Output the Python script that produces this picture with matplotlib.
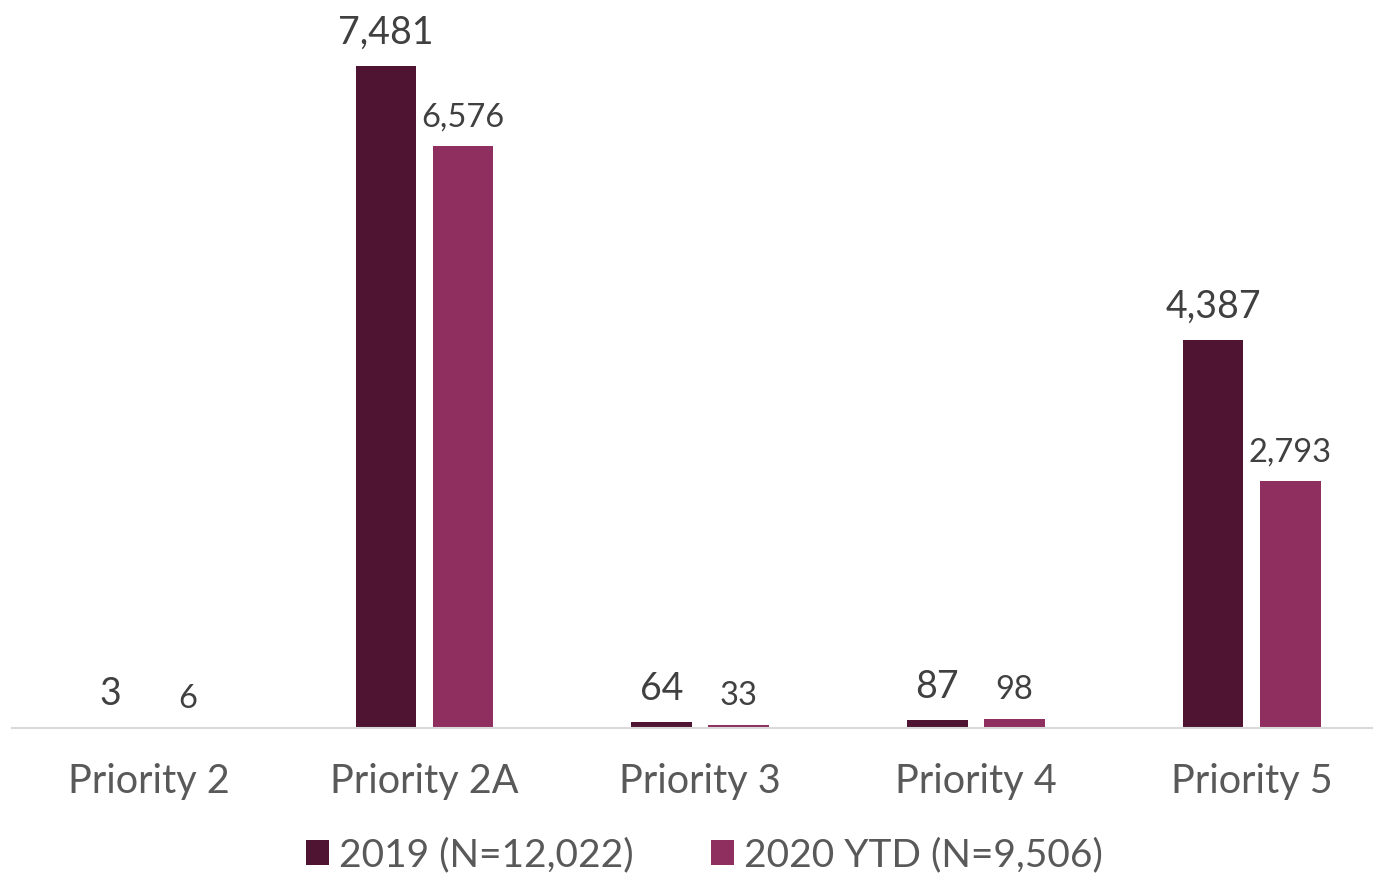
import matplotlib.pyplot as plt
import numpy as np

plt.rcParams['font.family'] = ['Lato', 'DejaVu Sans']

categories = ['Priority 2', 'Priority 2A', 'Priority 3', 'Priority 4', 'Priority 5']
vals_2019 = [3, 7481, 64, 87, 4387]
vals_2020 = [6, 6576, 33, 98, 2793]
series_names = ['2019 (N=12,022)', '2020 YTD (N=9,506)']

c_2019 = '#4E1431'
c_2020 = '#8E2F5F'

fig = plt.figure(figsize=(13.73, 8.77), dpi=100)
ax = fig.add_axes([12 / 1373, 149 / 877, 1361 / 1373, 728 / 877])

x = np.arange(len(categories))
w = 0.22
off = 0.14
b1 = ax.bar(x - off, vals_2019, w, color=c_2019, label=series_names[0])
b2 = ax.bar(x + off, vals_2020, w, color=c_2020, label=series_names[1])

for rect, v in zip(b1, vals_2019):
    ax.annotate(f'{v:,}', (rect.get_x() + rect.get_width() / 2, v),
                xytext=(0, 11), textcoords='offset points',
                ha='center', va='bottom', fontsize=27, color='#404040')
for rect, v in zip(b2, vals_2020):
    ax.annotate(f'{v:,}', (rect.get_x() + rect.get_width() / 2, v),
                xytext=(0, 10), textcoords='offset points',
                ha='center', va='bottom', fontsize=23.5, color='#404040')

ax.set_xlim(-0.496, 4.44)
ax.set_ylim(0, 8230)
ax.set_xticks(x)
ax.set_xticklabels(categories, fontsize=28.5, color='#595959')
ax.tick_params(axis='x', length=0, pad=25)
ax.set_yticks([])
for s in ['top', 'right', 'left']:
    ax.spines[s].set_visible(False)
ax.spines['bottom'].set_color('#D9D9D9')
ax.spines['bottom'].set_linewidth(1.5)

fig.legend(loc='center', bbox_to_anchor=(0.513, 22 / 877), ncol=2, frameon=False,
           fontsize=28, labelcolor='#595959', handlelength=0.6, handleheight=0.6,
           handletextpad=0.25, columnspacing=2.0)

fig.savefig('out.png', dpi=100)
